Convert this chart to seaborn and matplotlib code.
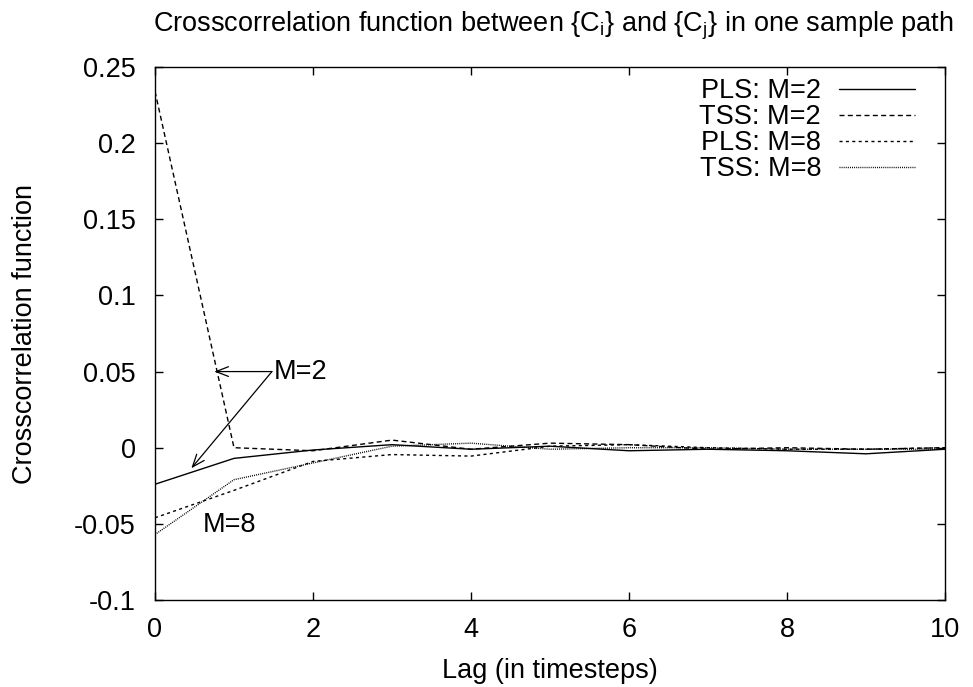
import numpy as np
import pandas as pd
import matplotlib
matplotlib.use("Agg")
import matplotlib.pyplot as plt
import seaborn as sns

lags = [0, 1, 2, 3, 4, 5, 6, 7, 8, 9, 10]
pls_m2 = [-0.024, -0.007, -0.0015, 0.002, -0.001, 0.001, -0.002, -0.001, -0.002, -0.004, -0.001]
tss_m2 = [0.234, 0.000, -0.002, 0.005, -0.001, 0.003, 0.002, -0.001, 0.000, -0.001, 0.000]
pls_m8 = [-0.046, -0.028, -0.009, -0.0045, -0.0055, 0.001, 0.002, 0.000, -0.001, -0.001, 0.000]
tss_m8 = [-0.057, -0.021, -0.010, 0.001, 0.003, -0.001, 0.000, 0.000, -0.001, -0.001, -0.001]
series_names = ["PLS: M=2", "TSS: M=2", "PLS: M=8", "TSS: M=8"]
xticks = [0, 2, 4, 6, 8, 10]
yticks = [-0.1, -0.05, 0, 0.05, 0.1, 0.15, 0.2, 0.25]
ytick_labels = ["-0.1", "-0.05", "0", "0.05", "0.1", "0.15", "0.2", "0.25"]

sns.set_style("ticks")
plt.rcParams['font.family'] = ['Liberation Sans', 'DejaVu Sans']
plt.rcParams['mathtext.fontset'] = 'custom'
plt.rcParams['mathtext.rm'] = 'Liberation Sans'
plt.rcParams['mathtext.it'] = 'Liberation Sans'
plt.rcParams['text.color'] = 'black'
plt.rcParams['axes.labelcolor'] = 'black'

FS = 19.5

df = pd.DataFrame({
    "lag": lags * 4,
    "value": pls_m2 + tss_m2 + pls_m8 + tss_m8,
    "series": sum([[n] * len(lags) for n in series_names], []),
})

fig = plt.figure(figsize=(9.73, 6.87), dpi=100)
ax = fig.add_axes([155 / 973, 1 - 600 / 687, 790 / 973, 533 / 687])

dashes = {
    "PLS: M=2": "",
    "TSS: M=2": (3.6, 2.4),
    "PLS: M=8": (2.2, 2.4),
    "TSS: M=8": (0.7, 0.8),
}
sns.lineplot(data=df, x="lag", y="value", style="series", dashes=dashes,
             color="black", linewidth=1.0, ax=ax, legend=True)

ax.set_xlim(0, 10)
ax.set_ylim(-0.1, 0.25)
ax.set_xticks(xticks)
ax.set_xticklabels([str(t) for t in xticks])
ax.set_yticks(yticks)
ax.set_yticklabels(ytick_labels)
ax.tick_params(direction="in", length=6, width=1, top=True, right=True,
               labelsize=FS, colors="black")
ax.tick_params(axis="x", pad=12)
ax.tick_params(axis="y", pad=14)
for s in ax.spines.values():
    s.set_linewidth(1.0)
    s.set_color("black")
    s.set_visible(True)

ax.set_xlabel("Lag (in timesteps)", fontsize=FS, labelpad=11)
ax.set_ylabel("Crosscorrelation function", fontsize=FS, labelpad=26)

fig.text(0.569, 1 - 32 / 687,
         r"Crosscorrelation function between {C$_\mathregular{i}$} and {C$_\mathregular{j}$} in one sample path",
         ha="center", va="baseline", fontsize=FS)

handles, labels = ax.get_legend_handles_labels()
leg = ax.legend(handles, labels, loc="upper right", frameon=False, fontsize=FS,
                markerfirst=False, handlelength=2.8, handletextpad=0.67,
                labelspacing=0.0, borderpad=0, borderaxespad=0,
                bbox_to_anchor=(915 / 973, 1 - 78 / 687), bbox_transform=fig.transFigure)
for t in leg.get_texts():
    t.set_ha("right")

arrow_kw = dict(arrowstyle="->,head_length=0.9,head_width=0.35", color="black", lw=0.9,
                shrinkA=0, shrinkB=0)
ax.annotate("", xy=(0.75, 0.05), xytext=(1.48, 0.05), arrowprops=arrow_kw)
ax.annotate("", xy=(0.46, -0.0135), xytext=(1.48, 0.05), arrowprops=arrow_kw)
ax.text(1.5, 0.05, "M=2", fontsize=FS, ha="left", va="center")
ax.text(0.6, -0.051, "M=8", fontsize=FS, ha="left", va="center")

fig.savefig("out.png", dpi=100)
